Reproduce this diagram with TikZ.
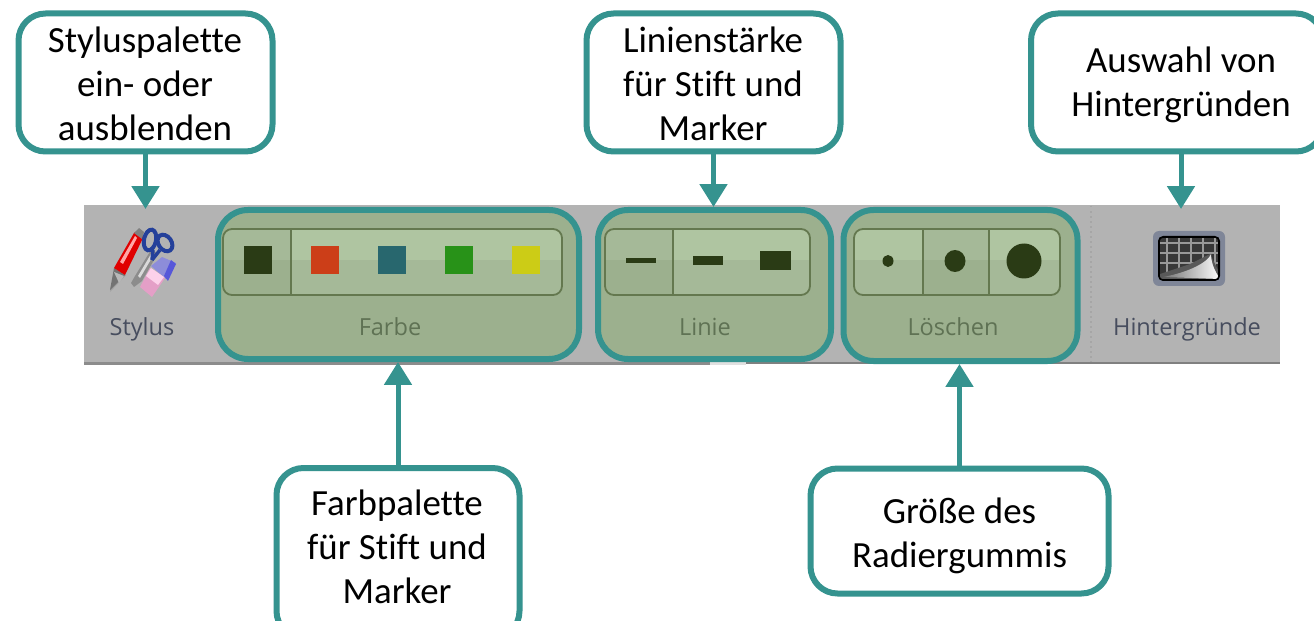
\documentclass[tikz,border=0pt]{standalone}
\usepackage{fontspec}
\setmainfont[Ligatures=NoCommon]{Carlito}
\newfontfamily\uifont{Open Sans}
\usetikzlibrary{arrows.meta}
\newdimen\px \px=0.02cm
\definecolor{calloutc}{HTML}{35938F}
\definecolor{barg}{HTML}{B3B3B3}
\definecolor{hl}{HTML}{9CB08E}
\definecolor{hlup}{HTML}{AFC5A1}
\definecolor{hllo}{HTML}{A5B998}
\definecolor{pedge}{HTML}{64784F}
\definecolor{dk}{HTML}{2A3B15}
\definecolor{uitext}{HTML}{474D5E}
\definecolor{hltext}{HTML}{5F7254}
\definecolor{scissor}{HTML}{24409A}
\definecolor{iconrim}{HTML}{7F8698}
\tikzset{
  x=0.02cm,y=-0.02cm,
  callout/.style={draw=calloutc,line width=6\px,fill=white,rounded corners=27\px,inner sep=0pt},
  calltext/.style={align=center,inner sep=0pt,font=\fontsize{21}{25.1}\selectfont,text=black},
  glass/.style={draw=calloutc,line width=6\px,fill=hl,rounded corners=30\px,inner sep=0pt},
  pointer/.style={draw=calloutc,line width=5\px,-{Triangle[length=13pt,width=15.3pt]}},
  uilabel/.style={font=\uifont\fontsize{13.4}{15}\selectfont,inner sep=0pt,anchor=base},
  sw/.style={inner sep=0pt,minimum width=28\px,minimum height=28\px,draw=none}
}
\newcommand{\palette}[7]{% x1 x2 sel1 sel2 div1 div2 unused
  \begin{scope}
    \clip[rounded corners=9\px] (#1,229) rectangle (#2,295);
    \fill[hllo] (#1,229) rectangle (#2,295);
    \fill[hlup] (#1,229) rectangle (#2,260);
    \fill[hllo] (#3,229) rectangle (#4,295);
    \fill[hl] (#3,260) rectangle (#4,295);
  \end{scope}
  \draw[pedge,line width=1.8\px,rounded corners=9\px] (#1,229) rectangle (#2,295);
  \draw[pedge,line width=1.8\px] (#5,229) -- (#5,295);
  \ifx&#6&\else\draw[pedge,line width=1.8\px] (#6,229) -- (#6,295);\fi
}
\begin{document}
\begin{tikzpicture}
\useasboundingbox (0,0) rectangle (1314,621);
\clip (0,0) rectangle (1314,621);
\fill[white] (0,0) rectangle (1314,621);
% toolbar
\fill[barg] (84,205) rectangle (1280,362);
\fill[black!45] (84,362) rectangle (710,365);
\fill[black!12] (710,362) rectangle (746,365);
\fill[black!50] (746,362) rectangle (1280,364);
\draw[black!35,line width=1.5\px,dotted] (1091,206) -- (1091,362);
% highlighted groups
\node[glass,minimum width=361\px,minimum height=149\px] (farbeH) at (398.5,284.5) {};
\node[glass,minimum width=233\px,minimum height=149\px] (linieH) at (714.5,284.5) {};
\node[glass,minimum width=234\px,minimum height=151\px] (loeschenH) at (960.5,285.5) {};
% palettes
\palette{223}{562}{223}{291}{291}{}{}
\palette{605}{810}{605}{673}{673}{}{}
\palette{854}{1060}{924}{989}{923}{989}{}
% colour swatches
\node[sw,fill=dk] (c1) at (257.5,260) {};
\node[sw,fill={rgb,255:red,204;green,62;blue,24}] (c2) at (324.5,260) {};
\node[sw,fill={rgb,255:red,40;green,103;blue,110}] (c3) at (391.5,260) {};
\node[sw,fill={rgb,255:red,40;green,146;blue,24}] (c4) at (459,260) {};
\node[sw,fill={rgb,255:red,204;green,204;blue,22}] (c5) at (526,260) {};
% line widths
\fill[dk] (626,258) rectangle (656,263);
\fill[dk] (693,256) rectangle (723,265);
\fill[dk] (760,251) rectangle (791,270);
% eraser sizes
\fill[dk] (888,261) ellipse (5.5 and 6);
\fill[dk] (955,261) ellipse (10.5 and 11);
\fill[dk] (1024,261) ellipse (17.5 and 17.5);
% group labels
\node[uilabel,text=uitext] (stylusL) at (142,336) {Stylus};
\node[uilabel,text=hltext] (farbeL) at (390,336) {Farbe};
\node[uilabel,text=hltext] (linieL) at (705,336) {Linie};
\node[uilabel,text=hltext] (loeschenL) at (953,336) {Löschen};
\node[uilabel,text=uitext] (hintL) at (1187,336) {Hintergründe};
% stylus icon
\fill[black!45,opacity=.5] (110,292) -- (115,268) -- (126,275) -- cycle;
\fill[black!55] (110,290) -- (114,268) -- (125,275) -- cycle;
\fill[black!28] (114,272) -- (124,276) -- (119,283) -- cycle;
\fill[red!88!black] (114,268) -- (134,233) .. controls (138,228) and (144,232) .. (143,238) -- (125,275) -- cycle;
\fill[red!35!white] (120,262) -- (135,236) -- (137,238) -- (123,264) -- cycle;
\fill[black!50] (134,233) -- (139,228) -- (144,232) -- (142,239) -- cycle;
\fill[black!45] (131,283) -- (135,276) -- (151,250) -- (158,253) -- (142,281) -- (134,287) -- cycle;
\fill[white!85!black] (138,276) -- (151,254) -- (153,256) -- (140,278) -- cycle;
\draw[scissor,line width=4\px,rotate around={-12:(150,240)}] (150,240) ellipse (6 and 10.5);
\draw[scissor,line width=4\px,rotate around={35:(165,243)}] (165,243) ellipse (6.5 and 9);
\draw[scissor,line width=3.5\px] (153,250) -- (152,260);
\draw[scissor,line width=3.5\px] (160,250) -- (152,260);
\fill[blue!35!white!85!black] (151,266) -- (162,257) -- (176,263) -- (166,279) -- cycle;
\fill[blue!60!white!85!black] (171,260) -- (176,264) -- (168,281) -- (164,276) -- cycle;
\fill[magenta!35!white!90!black] (140,287) -- (150,268) -- (165,278) -- (152,297) -- cycle;
\fill[magenta!18!white] (146,276) -- (151,268) -- (164,277) -- (158,285) -- cycle;
% background icon
\fill[iconrim,rounded corners=6\px] (1153,231) rectangle (1225,286);
\fill[black,rounded corners=5\px] (1158,236) rectangle (1220,281);
\begin{scope}
  \clip[rounded corners=3\px] (1160,238) rectangle (1218,279);
  \fill[black!78] (1160,238) rectangle (1218,279);
  \foreach \gx in {1167,1179,1191,1203,1215} \draw[white!60!black,line width=1.2\px] (\gx,238) -- (\gx,279);
  \foreach \gy in {243,253,263} \draw[white!60!black,line width=1.2\px] (1160,\gy) -- (1218,\gy);
  \fill[black!65] (1160,274) -- (1190,264) -- (1210,254) -- (1218,270) -- (1218,279) -- (1160,279) -- cycle;
  \shade[left color=black!55,right color=white] (1163,277) .. controls (1190,272) and (1208,262) .. (1211,254) .. controls (1211,262) and (1214,270) .. (1220,279) -- cycle;
\end{scope}
% callouts
\node[callout,minimum width=254\px,minimum height=138\px] (stylusC) at (145.5,82.5) {};
\node[calltext] (stylusX) at (145,84) {Styluspalette\\ein- oder\\ausblenden};
\node[callout,minimum width=254\px,minimum height=138\px] (linieC) at (713.5,82.5) {};
\node[calltext] (linieX) at (713,84) {Linienstärke\\für Stift und\\Marker};
\node[callout,minimum width=292\px,minimum height=138\px] (hintC) at (1177,82.5) {};
\node[calltext] (hintX) at (1181,85) {Auswahl von\\Hintergründen};
\node[callout,minimum width=243\px,minimum height=170\px] (farbeC) at (398,553) {};
\node[calltext] (farbeX) at (397,547) {Farbpalette\\für Stift und\\Marker};
\node[callout,minimum width=298\px,minimum height=125\px] (radC) at (959.5,531) {};
\node[calltext] (radX) at (959.5,536) {Größe des\\Radiergummis};
% connectors
\coordinate (stylusG) at (145.5,209);
\coordinate (hintG) at (1181,209);
\draw[pointer] (stylusC.south) -- (stylusG);
\draw[pointer] (linieC.south) -- (linieH.north -| linieC.south);
\draw[pointer] (hintC.south -| hintG) -- (hintG);
\draw[pointer] (farbeC.north) -- (farbeH.south -| farbeC.north);
\draw[pointer] (radC.north) -- (loeschenH.south -| radC.north);
\end{tikzpicture}
\end{document}
